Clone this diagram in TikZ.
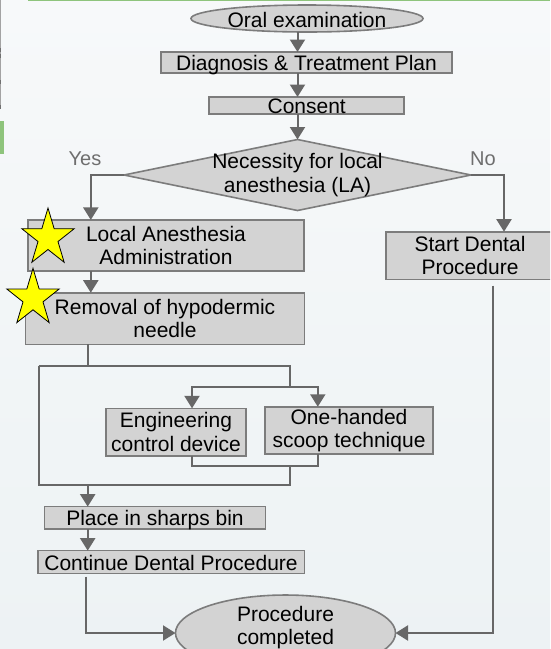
\documentclass[tikz,border=0pt]{standalone}
\usepackage{fontspec}
\setmainfont{Liberation Sans}
\usetikzlibrary{shapes.geometric,arrows.meta}
\definecolor{bgtop}{HTML}{F7F9FA}
\definecolor{bgbot}{HTML}{EDF2F4}
\definecolor{boxfill}{HTML}{D3D3D3}
\definecolor{boxline}{HTML}{7C7C7C}
\definecolor{conncol}{HTML}{676767}
\definecolor{labcol}{HTML}{6E6E6E}
\definecolor{greenbar}{HTML}{8EC47C}
\definecolor{edgegray}{HTML}{A3A3A3}
\definecolor{edgedark}{HTML}{707070}
\definecolor{stary}{HTML}{FFFF00}
\begin{document}
\begin{tikzpicture}[x=1pt,y=-1pt,
  every node/.style={font=\fontsize{21}{23.5}\selectfont, inner sep=0pt, outer sep=0pt},
  box/.style={rectangle, draw=boxline, fill=boxfill, line width=1.6pt, align=center},
  onebox/.style={box, text height=17pt, text depth=1pt},
  oval/.style={ellipse, draw=boxline, fill=boxfill, line width=1.6pt, align=center},
  conn/.style={draw=conncol, line width=2pt},
  arr/.style={conn, -{Triangle[width=15pt,length=12.5pt]}},
  yn/.style={text=labcol, font=\fontsize{20}{24}\selectfont},
  starsty/.style={draw=black, fill=stary, line width=0.8pt, line join=miter}]
\useasboundingbox (0,0) rectangle (550,649);
\clip (0,0) rectangle (550,649);
% background and edge artefacts
\shade[top color=bgtop, bottom color=bgbot] (0,0) rectangle (550,649);
\fill[greenbar] (28,0) rectangle (550,1.3);
\fill[greenbar] (0,121) rectangle (4,154);
\fill[edgegray] (0,0) rectangle (1.3,109);
\fill[edgedark] (0,48) rectangle (1.3,52);
\fill[edgedark] (0,53.5) rectangle (1.3,57.5);
\fill[edgedark] (0,80) rectangle (1.3,83.5);
\fill[edgedark] (0,105) rectangle (1.3,109);

% nodes
\node[oval, minimum width=232pt, minimum height=27pt, text height=18.5pt, text depth=0pt] (oral) at (307,18.5) {Oral examination};
\node[onebox, minimum width=291pt, minimum height=21pt] (diag) at (306.5,62.5) {Diagnosis \& Treatment Plan};
\node[box, minimum width=195pt, minimum height=17pt, text height=16.5pt, text depth=0.5pt] (consent) at (306.7,105.5) {Consent};
\node[diamond, draw=boxline, fill=boxfill, line width=1.6pt, minimum width=347pt, minimum height=71pt,
  label={[align=center]center:Necessity for local\\anesthesia (LA)}] (dia) at (297.5,175) {};
\node[yn] (yes) at (85,159) {Yes};
\node[yn] (no) at (483,159) {No};
\node[box, minimum width=276pt, minimum height=51pt] (la) at (166,245.4) {Local Anesthesia\\Administration};
\node[box, minimum width=168pt, minimum height=47.6pt] (start) at (470,255.5) {Start Dental\\Procedure};
\node[box, minimum width=279pt, minimum height=51.6pt] (rem) at (165,318.5) {Removal of hypodermic\\needle};
\node[box, minimum width=140pt, minimum height=47.7pt] (eng) at (176,432.2) {Engineering\\control device};
\node[box, minimum width=168.4pt, minimum height=47.3pt] (one) at (349,430.4) {One-handed\\scoop technique};
\node[onebox, minimum width=221pt, minimum height=22.3pt] (place) at (155,517.8) {Place in sharps bin};
\node[onebox, minimum width=266.6pt, minimum height=22.7pt] (cont) at (171,562) {Continue Dental Procedure};
\node[oval, minimum width=220pt, minimum height=66pt] (proc) at (285.5,633) {Procedure\\completed\rule[-15pt]{0pt}{1pt}};

% stars
\begin{scope}[shift={(48,238)}]
\draw[starsty] (270:27.5 and 30) -- (306:10.5 and 11.5) -- (342:27.5 and 30) -- (18:10.5 and 11.5)
  -- (54:27.5 and 30) -- (90:10.5 and 11.5) -- (126:27.5 and 30) -- (162:10.5 and 11.5)
  -- (198:27.5 and 30) -- (234:10.5 and 11.5) -- cycle;
\end{scope}
\begin{scope}[shift={(33,298.3)}]
\draw[starsty] (270:27.5 and 30) -- (306:10.5 and 11.5) -- (342:27.5 and 30) -- (18:10.5 and 11.5)
  -- (54:27.5 and 30) -- (90:10.5 and 11.5) -- (126:27.5 and 30) -- (162:10.5 and 11.5)
  -- (198:27.5 and 30) -- (234:10.5 and 11.5) -- cycle;
\end{scope}

% helper coordinates
\coordinate (ax) at (297.5,0);
\coordinate (lx1) at (90.8,0);
\coordinate (lx2) at (87.7,0);
\coordinate (rx2) at (504,0);
\coordinate (e1) at (192,0);
\coordinate (e2) at (317.8,0);
\coordinate (bTL) at (38.5,366);
\coordinate (bTR) at (290,366);
\coordinate (bBL) at (38.5,485);
\coordinate (bBR) at (290,485);
\coordinate (split) at (290,387);
\coordinate (merge) at (290,466);
\coordinate (jTop) at (87.7,366);
\coordinate (bOut) at (87.7,485);
\coordinate (contOut) at (86.3,576.7);
\coordinate (startOut) at (492.7,285.7);

% connectors
\draw[arr] (ax |- oral.south) -- (ax |- diag.north);
\draw[arr] (ax |- diag.south) -- (ax |- consent.north);
\draw[arr] (ax |- consent.south) -- (dia.north);
\draw[arr] (dia.west) -| (lx1 |- la.north);
\draw[arr] (dia.east) -| (rx2 |- start.north);
\draw[arr] (lx1 |- la.south) -- (lx1 |- rem.north);
\draw[conn] (lx2 |- rem.south) -- (jTop);
\draw[conn] (bTL) -- (bTR) -- (split);
\draw[conn] (bTL) -- (bBL) -- (bBR) -- (merge);
\draw[arr] (split) -| (e1 |- eng.north);
\draw[arr] (split) -| (e2 |- one.north);
\draw[conn] (e1 |- eng.south) |- (e2 |- merge) -- (e2 |- one.south);
\draw[arr] (bOut) -- (lx2 |- place.north);
\draw[arr] (lx2 |- place.south) -- (lx2 |- cont.north);
\draw[arr] (contOut) |- (proc.west);
\draw[arr] (startOut) |- (proc.east);
\end{tikzpicture}
\end{document}
